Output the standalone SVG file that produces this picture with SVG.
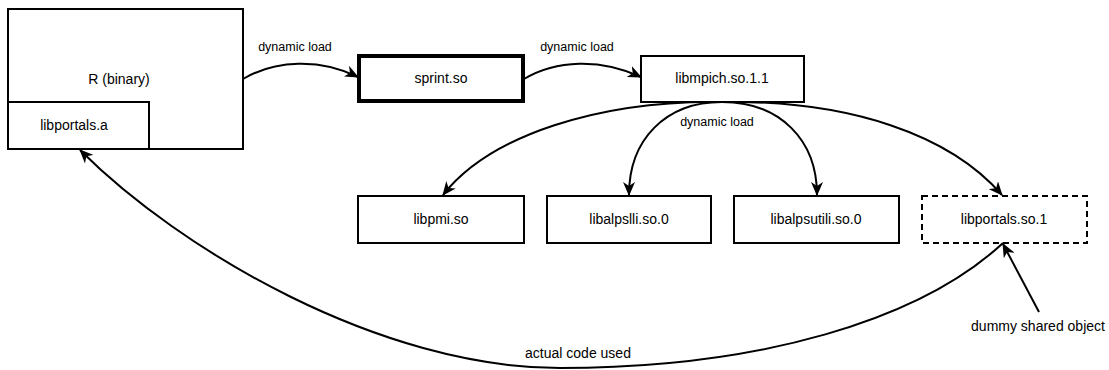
<svg xmlns="http://www.w3.org/2000/svg" width="1109" height="370" viewBox="0 0 1109 370">
<style>
.box{fill:#fff;stroke:#000;stroke-width:2}
.thick{stroke-width:4}
.dash{stroke-dasharray:6 4}
.lbl{font-family:"Liberation Sans",Arial,sans-serif;font-size:14px;fill:#000;text-anchor:middle;dominant-baseline:central}
.elbl{font-family:"Liberation Sans",Arial,sans-serif;font-size:12.5px;fill:#000;text-anchor:middle;dominant-baseline:central}
.edge{fill:none;stroke:#000;stroke-width:2}
</style>
<defs>
<marker id="arr" viewBox="0 0 14 12" refX="13" refY="6" markerWidth="14" markerHeight="12" markerUnits="userSpaceOnUse" orient="auto">
<path d="M0,0 L14,6 L0,12 L4,6 z" fill="#000"/>
</marker>
</defs>
<g id="node-R">
<rect class="box" x="8" y="9" width="235" height="140"/>
<text class="lbl" x="119" y="79">R (binary)</text>
</g>
<g id="node-libportals-a">
<rect class="box" x="8" y="102" width="141" height="47"/>
<text class="lbl" x="74" y="125">libportals.a</text>
</g>
<g id="node-sprint">
<rect class="box thick" x="359" y="56" width="164" height="45"/>
<text class="lbl" x="441" y="78">sprint.so</text>
</g>
<g id="node-libmpich">
<rect class="box" x="641" y="56" width="163" height="46"/>
<text class="lbl" x="722" y="78">libmpich.so.1.1</text>
</g>
<g id="node-libpmi">
<rect class="box" x="358" y="196" width="166" height="47"/>
<text class="lbl" x="441" y="219">libpmi.so</text>
</g>
<g id="node-libalpslli">
<rect class="box" x="547" y="196" width="164" height="47"/>
<text class="lbl" x="629" y="219">libalpslli.so.0</text>
</g>
<g id="node-libalpsutili">
<rect class="box" x="734" y="196" width="165" height="47"/>
<text class="lbl" x="816" y="219">libalpsutili.so.0</text>
</g>
<g id="node-libportals-so">
<rect class="box dash" x="922" y="196" width="165" height="47"/>
<text class="lbl" x="1004" y="219">libportals.so.1</text>
</g>
<g id="connectors">
<path class="edge" d="M243,79 C275,60 320,58 358,77" marker-end="url(#arr)"/>
<text class="elbl" x="295" y="47">dynamic load</text>
<path class="edge" d="M524,79 C556,60 600,58 641,77" marker-end="url(#arr)"/>
<text class="elbl" x="577" y="47">dynamic load</text>
<path class="edge" d="M722,102 C600,100 490,135 443,195" marker-end="url(#arr)"/>
<path class="edge" d="M722,102 C665,102 629,140 629,195" marker-end="url(#arr)"/>
<path class="edge" d="M722,102 C780,102 817,140 817,195" marker-end="url(#arr)"/>
<path class="edge" d="M722,102 C850,100 950,135 1002,195" marker-end="url(#arr)"/>
<text class="elbl" x="717" y="122">dynamic load</text>
<path class="edge" d="M1003,243 C920,320 760,368 560,368 C380,368 180,250 80,150" marker-end="url(#arr)"/>
<text class="lbl" x="578" y="353">actual code used</text>
<path class="edge" d="M1039,312 L1003,244" marker-end="url(#arr)"/>
<text class="lbl" x="1038" y="326">dummy shared object</text>
</g>
</svg>
